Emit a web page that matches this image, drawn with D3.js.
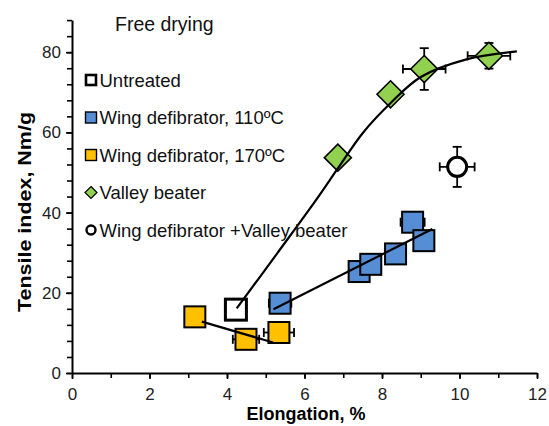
<!DOCTYPE html>
<html>
<head>
<meta charset="utf-8">
<script src="https://cdn.jsdelivr.net/npm/d3@7"></script>
<style>
  body { margin: 0; background: #fff; }
  svg { display: block; font-family: "Liberation Sans", Arial, sans-serif; }
</style>
</head>
<body>
<svg id="chart" width="549" height="426"></svg>
<script>
// data (elongation %, tensile index Nm/g)
var untreatedX = [4.23];
var untreatedY = [15.8];

var wing110X = [5.37, 7.41, 7.71, 8.35, 8.79, 9.08];
var wing110Y = [17.4, 25.3, 27.1, 29.7, 37.6, 33.0];
var wing110XErr = [0.29, 0.1, 0.1, 0.1, 0.31, 0.1];
var wing110YErr = [0.5, 1.2, 0.5, 1.5, 0.5, 0.5];

var wing170X = [3.17, 4.49, 5.34];
var wing170Y = [14.0, 8.4, 10.1];
var wing170XErr = [0.1, 0.34, 0.39];
var wing170YErr = [0.3, 0.3, 0.3];

var valleyX = [6.86, 8.22, 9.09, 10.76];
var valleyY = [53.7, 69.5, 75.8, 79.1];
var valleyXErr = [0.1, 0.1, 0.55, 0.55];
var valleyYErr = [0.5, 0.5, 5.2, 3.2];

var comboX = [9.94];
var comboY = [51.4];
var comboXErr = [0.45];
var comboYErr = [5.0];

// trend lines
var trendValleyX = [4.25, 5.3, 6.31, 6.86, 7.5, 8.21, 9.0, 10.18, 11.48];
var trendValleyY = [16.1, 29.9, 43.3, 51.0, 59.8, 67.2, 73.8, 78.2, 80.2];
var trend110X = [5.2, 9.3];
var trend110Y = [15.9, 35.9];
var trend170X = [3.35, 5.19];
var trend170Y = [12.8, 7.6];

var xTicks = [0, 2, 4, 6, 8, 10, 12];
var yTicks = [0, 20, 40, 60, 80];

var legendLabels = ['Untreated', 'Wing defibrator, 110ºC', 'Wing defibrator, 170ºC',
                    'Valley beater', 'Wing defibrator +Valley beater'];

var svg = d3.select('#chart');

var xScale = d3.scaleLinear().domain([0, 12]).range([72, 537]);
var yScale = d3.scaleLinear().domain([0, 88]).range([373, 20.1]);

function zip(xs, ys, xe, ye) {
  return xs.map(function(x, i) {
    return { x: x, y: ys[i], xe: xe ? xe[i] : 0, ye: ye ? ye[i] : 0 };
  });
}

var untreated = zip(untreatedX, untreatedY);
var wing110 = zip(wing110X, wing110Y, wing110XErr, wing110YErr);
var wing170 = zip(wing170X, wing170Y, wing170XErr, wing170YErr);
var valley = zip(valleyX, valleyY, valleyXErr, valleyYErr);
var combo = zip(comboX, comboY, comboXErr, comboYErr);

// axes
var minorY = d3.range(0, 89, 4);
var minorX = d3.range(0, 13, 1);

svg.append('g')
   .attr('transform', 'translate(72,0)')
   .call(d3.axisLeft(yScale).tickValues(minorY).tickSize(5).tickFormat(''))
   .call(function(g) { g.select('.domain').remove(); })
   .selectAll('line').attr('stroke', '#000').attr('stroke-width', 1.6);

svg.append('g')
   .attr('transform', 'translate(0,373)')
   .call(d3.axisBottom(xScale).tickValues(minorX).tickSize(5).tickFormat(''))
   .call(function(g) { g.select('.domain').remove(); })
   .selectAll('line').attr('stroke', '#000').attr('stroke-width', 1.6);

var yAxis = svg.append('g')
   .attr('transform', 'translate(72,0)')
   .call(d3.axisLeft(yScale).tickValues(yTicks).tickSize(6).tickPadding(5).tickSizeOuter(0));
yAxis.select('.domain').attr('stroke', '#000').attr('stroke-width', 2);
yAxis.selectAll('line').attr('stroke', '#000').attr('stroke-width', 1.6);
yAxis.selectAll('text').attr('font-size', 17).attr('fill', '#222')
     .attr('font-family', '"Liberation Sans", Arial, sans-serif');

var xAxis = svg.append('g')
   .attr('transform', 'translate(0,373)')
   .call(d3.axisBottom(xScale).tickValues(xTicks).tickSize(6).tickPadding(9).tickSizeOuter(0));
xAxis.select('.domain').attr('stroke', '#000').attr('stroke-width', 2);
xAxis.selectAll('line').attr('stroke', '#000').attr('stroke-width', 1.6);
xAxis.selectAll('text').attr('font-size', 17).attr('fill', '#222')
     .attr('font-family', '"Liberation Sans", Arial, sans-serif');

// axis titles
svg.append('text')
   .attr('x', 306).attr('y', 420)
   .attr('text-anchor', 'middle')
   .attr('font-size', 18).attr('font-weight', 'bold')
   .text('Elongation, %');
svg.append('text')
   .attr('transform', 'translate(31,212) rotate(-90)')
   .attr('text-anchor', 'middle')
   .attr('font-size', 18).attr('font-weight', 'bold')
   .attr('textLength', 200).attr('lengthAdjust', 'spacingAndGlyphs')
   .text('Tensile index, Nm/g');

// error bars (under the markers)
function errorBars(data) {
  var g = svg.append('g').attr('stroke', '#000').attr('stroke-width', 1.8);
  var cap = 4.5;
  data.forEach(function(d) {
    var cx = xScale(d.x), cy = yScale(d.y);
    if (d.xe) {
      var x0 = xScale(d.x - d.xe), x1 = xScale(d.x + d.xe);
      g.append('line').attr('x1', x0).attr('x2', x1).attr('y1', cy).attr('y2', cy);
      g.append('line').attr('x1', x0).attr('x2', x0).attr('y1', cy - cap).attr('y2', cy + cap);
      g.append('line').attr('x1', x1).attr('x2', x1).attr('y1', cy - cap).attr('y2', cy + cap);
    }
    if (d.ye) {
      var y0 = yScale(d.y - d.ye), y1 = yScale(d.y + d.ye);
      g.append('line').attr('x1', cx).attr('x2', cx).attr('y1', y0).attr('y2', y1);
      g.append('line').attr('x1', cx - cap).attr('x2', cx + cap).attr('y1', y0).attr('y2', y0);
      g.append('line').attr('x1', cx - cap).attr('x2', cx + cap).attr('y1', y1).attr('y2', y1);
    }
  });
}
errorBars(wing110);
errorBars(wing170);
errorBars(valley);
errorBars(combo);

// markers
var sq = 21;
function squares(data, fill, sw) {
  svg.append('g').selectAll('rect')
     .data(data).enter().append('rect')
     .attr('x', d => xScale(d.x) - sq / 2)
     .attr('y', d => yScale(d.y) - sq / 2)
     .attr('width', sq).attr('height', sq)
     .attr('fill', fill).attr('stroke', '#000').attr('stroke-width', sw);
}
squares(untreated, '#fff', 3);
squares(wing110, '#558ed5', 2);
squares(wing170, '#ffc000', 2);

var dm = 27;
svg.append('g').selectAll('path')
   .data(valley).enter().append('path')
   .attr('d', d => {
     var cx = xScale(d.x), cy = yScale(d.y), h = dm / 2;
     return 'M' + cx + ',' + (cy - h) + 'L' + (cx + h) + ',' + cy +
            'L' + cx + ',' + (cy + h) + 'L' + (cx - h) + ',' + cy + 'Z';
   })
   .attr('fill', '#92d050').attr('stroke', '#000').attr('stroke-width', 1.6);

svg.append('g').selectAll('circle')
   .data(combo).enter().append('circle')
   .attr('cx', d => xScale(d.x)).attr('cy', d => yScale(d.y))
   .attr('r', 9.5)
   .attr('fill', '#fff').attr('stroke', '#000').attr('stroke-width', 3);

// trend lines on top
var line = d3.line().x(d => xScale(d[0])).y(d => yScale(d[1]));
svg.append('path')
   .attr('d', d3.line().x(d => xScale(d[0])).y(d => yScale(d[1]))
                .curve(d3.curveCatmullRom.alpha(0.5))(d3.zip(trendValleyX, trendValleyY)))
   .attr('fill', 'none').attr('stroke', '#000').attr('stroke-width', 2.2);
svg.append('path')
   .attr('d', line(d3.zip(trend110X, trend110Y)))
   .attr('fill', 'none').attr('stroke', '#000').attr('stroke-width', 2.2);
svg.append('path')
   .attr('d', line(d3.zip(trend170X, trend170Y)))
   .attr('fill', 'none').attr('stroke', '#000').attr('stroke-width', 2.2);

// legend
svg.append('text')
   .attr('x', 115).attr('y', 31)
   .attr('font-size', 19.5).attr('fill', '#111')
   .text('Free drying');

var legendY = [86.5, 124, 161.5, 199, 236.5];
var lg = svg.append('g');
legendLabels.forEach(function(label, i) {
  var cy = legendY[i] - 6.5;
  var cx = 91;
  if (i === 0) {
    lg.append('rect').attr('x', cx - 5).attr('y', cy - 5).attr('width', 10).attr('height', 10)
      .attr('fill', '#fff').attr('stroke', '#000').attr('stroke-width', 2.6);
  } else if (i === 1 || i === 2) {
    lg.append('rect').attr('x', cx - 5.5).attr('y', cy - 5.5).attr('width', 11).attr('height', 11)
      .attr('fill', i === 1 ? '#558ed5' : '#ffc000').attr('stroke', '#000').attr('stroke-width', 1.4);
  } else if (i === 3) {
    lg.append('path')
      .attr('d', 'M' + cx + ',' + (cy - 6) + 'L' + (cx + 6) + ',' + cy + 'L' + cx + ',' + (cy + 6) + 'L' + (cx - 6) + ',' + cy + 'Z')
      .attr('fill', '#92d050').attr('stroke', '#000').attr('stroke-width', 1.2);
  } else {
    lg.append('circle').attr('cx', cx).attr('cy', cy).attr('r', 4.5)
      .attr('fill', '#fff').attr('stroke', '#000').attr('stroke-width', 2.4);
  }
  lg.append('text')
    .attr('x', 99.5).attr('y', legendY[i])
    .attr('font-size', 18.5).attr('fill', '#111')
    .text(label);
});
</script>
</body>
</html>
